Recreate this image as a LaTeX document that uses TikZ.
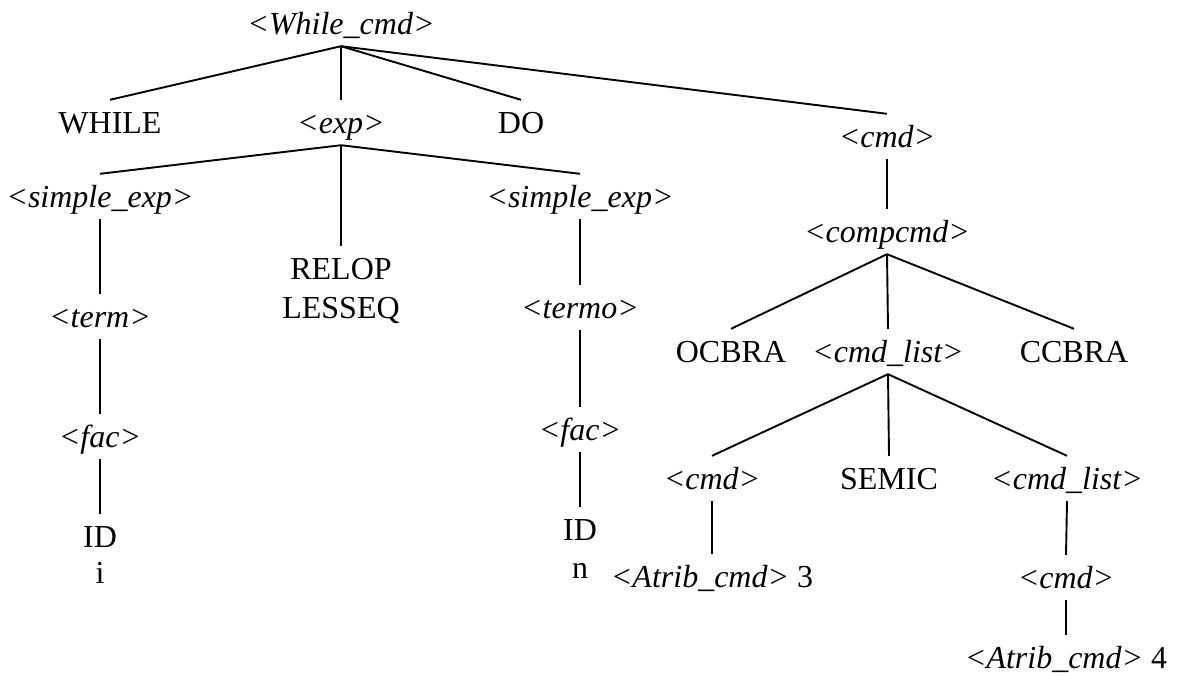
\documentclass[tikz,border=0pt]{standalone}
\usepackage{fontspec}
\setmainfont{Liberation Serif}
\begin{document}
\begin{tikzpicture}[x=1pt,y=-1pt,
  sym/.style={anchor=base,inner xsep=0pt,inner ysep=12pt,text height=21pt,text depth=0pt,
    font=\fontsize{32}{38}\selectfont},
  nt/.style={sym,font=\fontsize{32}{38}\selectfont\itshape},
  edge/.style={line width=1.9pt}]
\useasboundingbox (0,0) rectangle (1177,675);

% level 0
\node[nt] (root) at (341,34) {<While\_cmd>};
% level 1
\node[sym] (while) at (110,133) {WHILE};
\node[nt]  (exp)   at (341,133) {<exp>};
\node[sym] (do)    at (521,133) {DO};
\node[nt]  (cmd)   at (887,147) {<cmd>};
% expression subtree
\node[nt]  (sl)     at (100,207) {<simple\_exp>};
\node[sym] (relop)  at (341,279) {RELOP};
\node[sym] (lesseq) at (341,318) {LESSEQ};
\node[nt]  (sr)     at (580,207) {<simple\_exp>};
\node[nt]  (term)   at (100,327) {<term>};
\node[nt]  (termo)  at (580,318) {<termo>};
\node[nt]  (facl)   at (100,447) {<fac>};
\node[nt]  (facr)   at (580,440) {<fac>};
\node[sym] (idl)    at (100,547) {ID};
\node[sym] (vi)     at (100,583) {i};
\node[sym] (idr)    at (580,540) {ID};
\node[sym] (vn)     at (580,578) {n};
% command subtree
\node[nt]  (comp)   at (887,242) {<compcmd>};
\node[sym] (ocbra)  at (731,362) {OCBRA};
\node[nt]  (clist)  at (888,362) {<cmd\_list>};
\node[sym] (ccbra)  at (1074,362) {CCBRA};
\node[nt]  (cmda)   at (712,489) {<cmd>};
\node[sym] (semic)  at (889,489) {SEMIC};
\node[nt]  (clistb) at (1067,489) {<cmd\_list>};
\node[sym] (atra)   at (712,587) {\textit{<Atrib\_cmd>} 3};
\node[nt]  (cmdb)   at (1066,588) {<cmd>};
\node[sym] (atrb)   at (1066,668) {\textit{<Atrib\_cmd>} 4};

% tree edges
\draw[edge] (root.south) -- (while.north);
\draw[edge] (root.south) -- (exp.north);
\draw[edge] (root.south) -- (do.north);
\draw[edge] (root.south) -- (cmd.north);
\draw[edge] (exp.south) -- (sl.north);
\draw[edge] (exp.south) -- (relop.north);
\draw[edge] (exp.south) -- (sr.north);
\draw[edge] (sl.south) -- (term.north);
\draw[edge] (term.south) -- (facl.north);
\draw[edge] (facl.south) -- (idl.north);
\draw[edge] (sr.south) -- (termo.north);
\draw[edge] (termo.south) -- (facr.north);
\draw[edge] (facr.south) -- (idr.north);
\draw[edge] (cmd.south) -- (comp.north);
\draw[edge] (comp.south) -- (ocbra.north);
\draw[edge] (comp.south) -- (clist.north);
\draw[edge] (comp.south) -- (ccbra.north);
\draw[edge] (clist.south) -- (cmda.north);
\draw[edge] (clist.south) -- (semic.north);
\draw[edge] (clist.south) -- (clistb.north);
\draw[edge] (cmda.south) -- (atra.north);
\draw[edge] (clistb.south) -- (cmdb.north);
\draw[edge] (cmdb.south) -- (atrb.north);
\end{tikzpicture}
\end{document}
